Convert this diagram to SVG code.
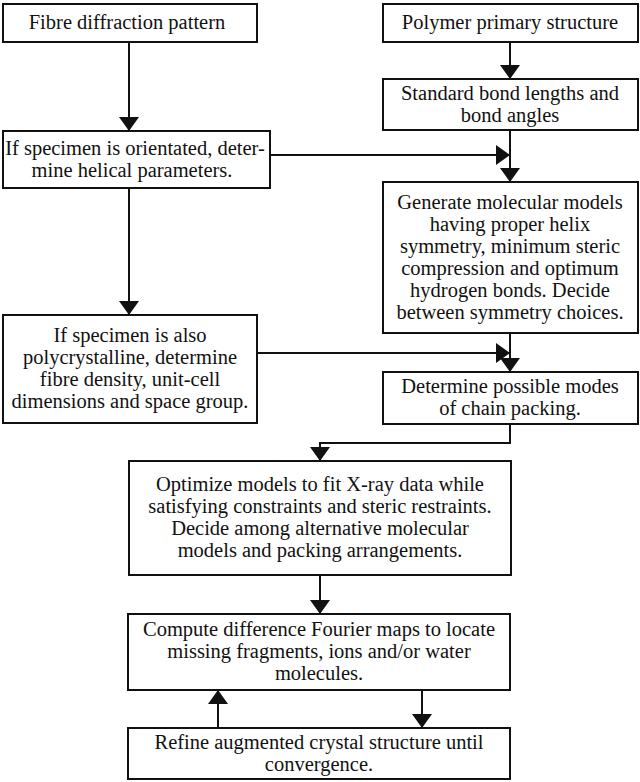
<svg xmlns="http://www.w3.org/2000/svg" width="640" height="782" viewBox="0 0 640 782">
<defs>
<style>
.box{fill:#fff;stroke:#111;stroke-width:2}
.t{font-family:"Liberation Serif","Times New Roman",serif;font-size:20.5px;fill:#111;text-anchor:middle}
.c{fill:none;stroke:#111;stroke-width:2}
</style>
<marker id="ah" viewBox="0 -10 14 20" refX="14" refY="0" markerWidth="14" markerHeight="20" markerUnits="userSpaceOnUse" orient="auto">
<path d="M0,-10 L14,0 L0,10 z" fill="#111"/>
</marker>
</defs>
<rect width="640" height="782" fill="#fff"/>
<g id="connectors">
<path class="c" d="M129,42 V131" marker-end="url(#ah)"/>
<path class="c" d="M129,188 V315" marker-end="url(#ah)"/>
<path class="c" d="M270,155 H510" marker-end="url(#ah)"/>
<path class="c" d="M510,42 V79" marker-end="url(#ah)"/>
<path class="c" d="M510,130 V182" marker-end="url(#ah)"/>
<path class="c" d="M257,353 H510" marker-end="url(#ah)"/>
<path class="c" d="M510,333 V372" marker-end="url(#ah)"/>
<path class="c" d="M510,424 V443 H320 V461" marker-end="url(#ah)"/>
<path class="c" d="M320,575 V614" marker-end="url(#ah)"/>
<path class="c" d="M218,728 V690" marker-end="url(#ah)"/>
<path class="c" d="M422,690 V728" marker-end="url(#ah)"/>
</g>
<g id="n-fibre">
<rect class="box" x="3" y="4" width="254" height="38"/>
<text class="t" x="127" y="29">Fibre diffraction pattern</text>
</g>
<g id="n-orient">
<rect class="box" x="3" y="131" width="267" height="57"/>
<text class="t" x="135" y="154.5">If specimen is orientated, deter-</text>
<text class="t" x="132" y="176.5">mine helical parameters.</text>
</g>
<g id="n-poly">
<rect class="box" x="3" y="315" width="254" height="108"/>
<text class="t" x="130" y="342">If specimen is also</text>
<text class="t" x="130" y="364">polycrystalline, determine</text>
<text class="t" x="130" y="386">fibre density, unit-cell</text>
<text class="t" x="130" y="408">dimensions and space group.</text>
</g>
<g id="n-primary">
<rect class="box" x="383" y="4" width="255" height="38"/>
<text class="t" x="510" y="29">Polymer primary structure</text>
</g>
<g id="n-bond">
<rect class="box" x="383" y="79" width="255" height="51"/>
<text class="t" x="510" y="99.5">Standard bond lengths and</text>
<text class="t" x="510" y="121.5">bond angles</text>
</g>
<g id="n-generate">
<rect class="box" x="383" y="182" width="255" height="151"/>
<text class="t" x="510" y="208.5">Generate molecular models</text>
<text class="t" x="510" y="230.5">having proper helix</text>
<text class="t" x="510" y="252.5">symmetry, minimum steric</text>
<text class="t" x="510" y="274.5">compression and optimum</text>
<text class="t" x="510" y="296.5">hydrogen bonds. Decide</text>
<text class="t" x="510" y="318.5">between symmetry choices.</text>
</g>
<g id="n-packing">
<rect class="box" x="383" y="372" width="255" height="52"/>
<text class="t" x="510" y="393">Determine possible modes</text>
<text class="t" x="510" y="415">of chain packing.</text>
</g>
<g id="n-optimize">
<rect class="box" x="129" y="461" width="382" height="114"/>
<text class="t" x="320" y="491">Optimize models to fit X-ray data while</text>
<text class="t" x="320" y="513">satisfying constraints and steric restraints.</text>
<text class="t" x="320" y="535">Decide among alternative molecular</text>
<text class="t" x="320" y="557">models and packing arrangements.</text>
</g>
<g id="n-fourier">
<rect class="box" x="128" y="614" width="382" height="76"/>
<text class="t" x="319" y="636">Compute difference Fourier maps to locate</text>
<text class="t" x="319" y="658">missing fragments, ions and/or water</text>
<text class="t" x="319" y="680">molecules.</text>
</g>
<g id="n-refine">
<rect class="box" x="128" y="728" width="382" height="51"/>
<text class="t" x="319" y="748.5">Refine augmented crystal structure until</text>
<text class="t" x="319" y="770.5">convergence.</text>
</g>
</svg>
